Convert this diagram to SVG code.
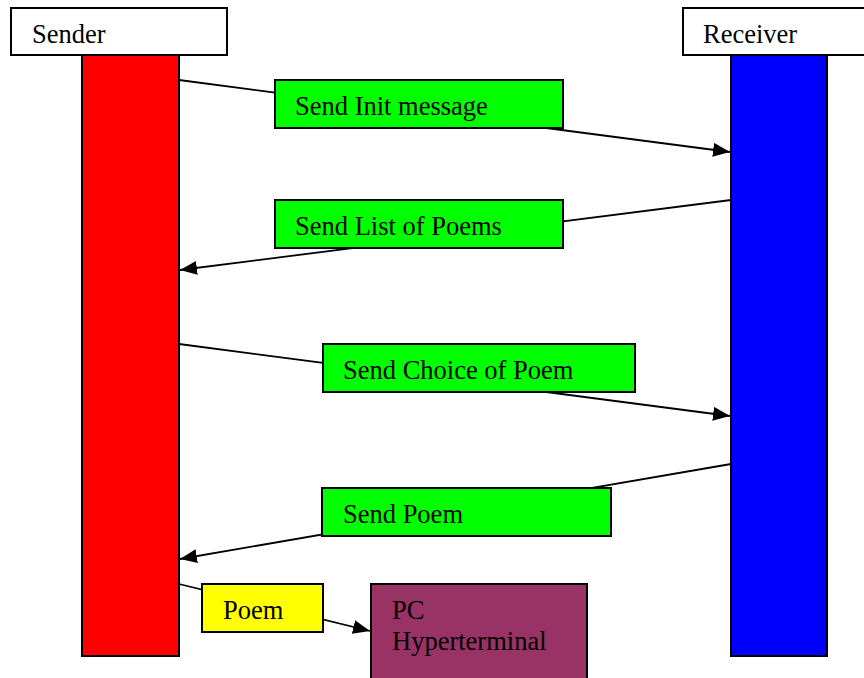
<svg xmlns="http://www.w3.org/2000/svg" width="864" height="678" viewBox="0 0 864 678">
<defs>
<style>
.box{stroke:#000;stroke-width:2}
.t{font-family:'Liberation Serif',serif;font-size:26.5px;fill:#000}
.c{stroke:#000;stroke-width:1.8;fill:none}
.lbl{fill:#00ff00;stroke:#000;stroke-width:2}
</style>
<marker id="ah" markerUnits="userSpaceOnUse" markerWidth="18" markerHeight="16" refX="17" refY="7" orient="auto">
<path d="M0,0 L17,7 L0,14 Z" fill="#000"/>
</marker>
</defs>
<rect width="864" height="678" fill="#fff"/>
<g id="sender">
<rect class="box" x="11" y="8" width="216" height="47" fill="#fff"/>
<text class="t" x="32" y="43" font-family="Liberation Serif, serif">Sender</text>
<rect class="box" x="82" y="55" width="97" height="601" fill="#ff0000"/>
</g>
<g id="receiver">
<rect class="box" x="683" y="8" width="190" height="47" fill="#fff"/>
<text class="t" x="703" y="43" font-family="Liberation Serif, serif">Receiver</text>
<rect class="box" x="731" y="55" width="96" height="601" fill="#0000ff"/>
</g>
<g id="connectors">
<line class="c" x1="179" y1="80" x2="730" y2="152" marker-end="url(#ah)"/>
<line class="c" x1="731" y1="200" x2="180" y2="270" marker-end="url(#ah)"/>
<line class="c" x1="179" y1="344" x2="730" y2="416" marker-end="url(#ah)"/>
<line class="c" x1="731" y1="464" x2="180" y2="559" marker-end="url(#ah)"/>
<line class="c" x1="179" y1="584" x2="370" y2="631" marker-end="url(#ah)"/>
</g>
<g id="msg-init">
<rect class="lbl" x="275" y="80" width="288" height="48"/>
<text class="t" x="295" y="115" font-family="Liberation Serif, serif">Send Init message</text>
</g>
<g id="msg-list">
<rect class="lbl" x="275" y="200" width="288" height="48"/>
<text class="t" x="295" y="235" font-family="Liberation Serif, serif">Send List of Poems</text>
</g>
<g id="msg-choice">
<rect class="lbl" x="323" y="344" width="312" height="48"/>
<text class="t" x="343" y="379" font-family="Liberation Serif, serif">Send Choice of Poem</text>
</g>
<g id="msg-poem">
<rect class="lbl" x="322" y="488" width="289" height="48"/>
<text class="t" x="343" y="523" font-family="Liberation Serif, serif">Send Poem</text>
</g>
<g id="poem">
<rect class="box" x="202" y="584" width="121" height="48" fill="#ffff00"/>
<text class="t" x="223" y="619" font-family="Liberation Serif, serif">Poem</text>
</g>
<g id="pc">
<rect class="box" x="371" y="584" width="216" height="110" fill="#993366"/>
<text class="t" x="392" y="619" font-family="Liberation Serif, serif">PC</text>
<text class="t" x="392" y="650" font-family="Liberation Serif, serif">Hyperterminal</text>
</g>
</svg>
